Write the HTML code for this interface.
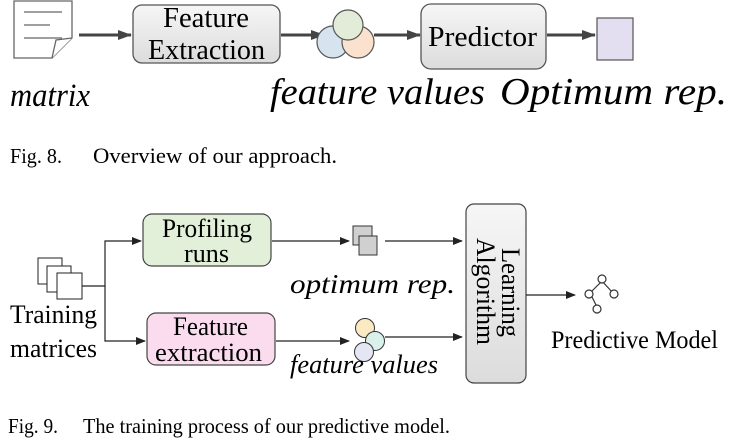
<!DOCTYPE html>
<html><head><meta charset="utf-8"><style>
html,body{margin:0;padding:0;background:#fff;}
svg{display:block;}
text{font-family:"Liberation Serif","Times New Roman",serif;}
</style></head><body>
<svg width="737" height="443" viewBox="0 0 737 443" xmlns="http://www.w3.org/2000/svg" font-family="Liberation Serif, serif">
<defs>
<marker id="a" markerWidth="10" markerHeight="8" refX="9" refY="4" orient="auto" markerUnits="userSpaceOnUse"><path d="M0,0 L10,4 L0,8 z" fill="#222"/></marker>
<marker id="b" markerWidth="14" markerHeight="10" refX="13" refY="5" orient="auto" markerUnits="userSpaceOnUse"><path d="M0,0 L14,5 L0,10 z" fill="#444"/></marker>
<linearGradient id="g" x1="0" y1="0" x2="0" y2="1"><stop offset="0" stop-color="#f6f6f6"/><stop offset="1" stop-color="#dcdcdc"/></linearGradient>
</defs>
<!-- Fig 8 -->
<path d="M14,1 H72 V38 L52,58 H14 Z" fill="#fff" stroke="#666" stroke-width="1.3"/>
<path d="M52,58 L56,40 L72,38" fill="#fff" stroke="#666" stroke-width="1.3"/>
<line x1="24" y1="12" x2="62" y2="12" stroke="#666" stroke-width="1.3"/>
<line x1="24" y1="25" x2="50" y2="25" stroke="#666" stroke-width="1.3"/>
<line x1="24" y1="38" x2="62" y2="38" stroke="#666" stroke-width="1.3"/>
<line x1="79" y1="35" x2="131" y2="35" stroke="#444" stroke-width="3" marker-end="url(#b)"/>
<rect x="133" y="5" width="147" height="58" rx="9" fill="url(#g)" stroke="#555" stroke-width="1.3"/>
<text x="163" y="27" font-size="28" textLength="86" lengthAdjust="spacingAndGlyphs">Feature</text>
<text x="148" y="59" font-size="28" textLength="117" lengthAdjust="spacingAndGlyphs">Extraction</text>
<line x1="281" y1="35" x2="324" y2="35" stroke="#444" stroke-width="3" marker-end="url(#b)"/>
<circle cx="333" cy="42" r="16" fill="#d6e4f0" stroke="#555" stroke-width="1.2"/>
<circle cx="358" cy="42" r="16" fill="#fbe2cf" stroke="#555" stroke-width="1.2"/>
<circle cx="348" cy="25" r="15" fill="#e2ecd9" stroke="#555" stroke-width="1.2"/>
<line x1="374" y1="35" x2="420" y2="35" stroke="#444" stroke-width="3" marker-end="url(#b)"/>
<rect x="421" y="4" width="125" height="65" rx="10" fill="url(#g)" stroke="#555" stroke-width="1.3"/>
<text x="428" y="46" font-size="29" textLength="109" lengthAdjust="spacingAndGlyphs">Predictor</text>
<line x1="547" y1="35" x2="595" y2="35" stroke="#444" stroke-width="3" marker-end="url(#b)"/>
<rect x="597" y="18" width="36" height="42" fill="#e3dff0" stroke="#555" stroke-width="1.2"/>
<text x="10" y="106" font-size="33" font-style="italic" textLength="80" lengthAdjust="spacingAndGlyphs">matrix</text>
<text x="270" y="104" font-size="37" font-style="italic" textLength="215" lengthAdjust="spacingAndGlyphs">feature values</text>
<text x="500" y="104" font-size="38" font-style="italic" textLength="227" lengthAdjust="spacingAndGlyphs">Optimum rep.</text>
<text x="10" y="163" font-size="21" textLength="52" lengthAdjust="spacingAndGlyphs">Fig. 8.</text>
<text x="93" y="163" font-size="22" textLength="244" lengthAdjust="spacingAndGlyphs">Overview of our approach.</text>
<!-- Fig 9 -->
<rect x="38" y="258" width="24" height="26" fill="#fff" stroke="#222" stroke-width="1"/>
<rect x="47" y="266" width="24" height="26" fill="#fff" stroke="#222" stroke-width="1"/>
<rect x="57" y="273" width="25" height="26" fill="#fff" stroke="#222" stroke-width="1"/>
<path d="M82,286 H105 V241 H141" fill="none" stroke="#222" stroke-width="1.2" marker-end="url(#a)"/>
<path d="M105,286 V341 H145" fill="none" stroke="#222" stroke-width="1.2" marker-end="url(#a)"/>
<rect x="143" y="214" width="128" height="52" rx="9" fill="#e2f0d9" stroke="#444" stroke-width="1.2"/>
<text x="162" y="237" font-size="26" textLength="90" lengthAdjust="spacingAndGlyphs">Profiling</text>
<text x="184" y="262" font-size="26" textLength="45" lengthAdjust="spacingAndGlyphs">runs</text>
<rect x="147" y="313" width="128" height="52" rx="9" fill="#fbdcef" stroke="#444" stroke-width="1.2"/>
<text x="173" y="335" font-size="26" textLength="75" lengthAdjust="spacingAndGlyphs">Feature</text>
<text x="155" y="361" font-size="26" textLength="107" lengthAdjust="spacingAndGlyphs">extraction</text>
<line x1="272" y1="241" x2="349" y2="241" stroke="#222" stroke-width="1.2" marker-end="url(#a)"/>
<line x1="276" y1="341" x2="349" y2="341" stroke="#222" stroke-width="1.2" marker-end="url(#a)"/>
<rect x="353" y="226" width="19" height="19" fill="#d0d0d0" stroke="#333" stroke-width="1"/>
<rect x="359" y="236" width="18" height="19" fill="#d0d0d0" stroke="#333" stroke-width="1"/>
<circle cx="365" cy="328" r="9.5" fill="#fbe9c4" stroke="#333" stroke-width="1"/>
<circle cx="375" cy="341" r="9.5" fill="#d9f1ea" stroke="#333" stroke-width="1"/>
<circle cx="364" cy="352" r="9.5" fill="#e4e6f4" stroke="#333" stroke-width="1"/>
<line x1="385" y1="241" x2="462" y2="241" stroke="#222" stroke-width="1.2" marker-end="url(#a)"/>
<line x1="385" y1="337" x2="462" y2="337" stroke="#222" stroke-width="1.2" marker-end="url(#a)"/>
<rect x="466" y="204" width="60" height="179" rx="8" fill="url(#g)" stroke="#444" stroke-width="1.2"/>
<text transform="translate(502,248) rotate(90)" font-size="26" textLength="89" lengthAdjust="spacingAndGlyphs">Learning</text>
<text transform="translate(477,238) rotate(90)" font-size="26" textLength="107" lengthAdjust="spacingAndGlyphs">Algorithm</text>
<line x1="526" y1="295" x2="575" y2="295" stroke="#222" stroke-width="1.2" marker-end="url(#a)"/>
<g fill="#fff" stroke="#333" stroke-width="1.2">
<line x1="602" y1="281" x2="590" y2="293"/><line x1="602" y1="281" x2="613" y2="293"/><line x1="590" y1="293" x2="597" y2="307"/>
<circle cx="602" cy="279" r="4"/><circle cx="589" cy="294" r="4"/><circle cx="614" cy="294" r="4"/><circle cx="597" cy="309" r="4"/>
</g>
<text x="551" y="348" font-size="25" textLength="167" lengthAdjust="spacingAndGlyphs">Predictive Model</text>
<text x="10" y="323" font-size="26" textLength="87" lengthAdjust="spacingAndGlyphs">Training</text>
<text x="10" y="357" font-size="26" textLength="87" lengthAdjust="spacingAndGlyphs">matrices</text>
<text x="290" y="293" font-size="27" font-style="italic" textLength="165" lengthAdjust="spacingAndGlyphs">optimum rep.</text>
<text x="290" y="373" font-size="26" font-style="italic" textLength="148" lengthAdjust="spacingAndGlyphs">feature values</text>
<text x="8" y="433" font-size="21" textLength="50" lengthAdjust="spacingAndGlyphs">Fig. 9.</text>
<text x="83" y="433" font-size="21" textLength="367" lengthAdjust="spacingAndGlyphs">The training process of our predictive model.</text>
</svg>
</body></html>
